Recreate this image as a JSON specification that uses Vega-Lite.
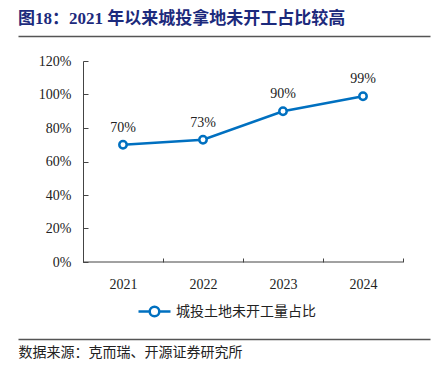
{
  "$schema": "https://vega.github.io/schema/vega-lite/v6.json",
  "autosize": "none",
  "width": 412,
  "height": 201,
  "padding": {"left": 18, "top": 61, "right": 11, "bottom": 115},
  "background": "white",
  "title": {
    "text": "图18：2021 年以来城投拿地未开工占比较高",
    "anchor": "start",
    "font": "Liberation Serif, Noto Sans CJK SC",
    "fontSize": 17,
    "fontWeight": "bold",
    "color": "#1c2a7c",
    "offset": 8
  },
  "config": {
    "font": "Liberation Serif, Noto Sans CJK SC",
    "view": {"stroke": null}
  },
  "data": {
    "values": [
      {"year": "2021", "value": 0.70, "label": "70%", "series": "城投土地未开工量占比"},
      {"year": "2022", "value": 0.73, "label": "73%", "series": "城投土地未开工量占比"},
      {"year": "2023", "value": 0.90, "label": "90%", "series": "城投土地未开工量占比"},
      {"year": "2024", "value": 0.99, "label": "99%", "series": "城投土地未开工量占比"}
    ]
  },
  "encoding": {
    "y": {
      "field": "value", "type": "quantitative",
      "scale": {"domain": [0, 1.2], "nice": false},
      "axis": {
        "title": null, "values": [0, 0.2, 0.4, 0.6, 0.8, 1.0, 1.2], "format": ".0%",
        "labelFont": "Liberation Serif", "labelFontSize": 14, "labelColor": "#222222",
        "domainColor": "#444444", "tickColor": "#444444", "tickSize": -5,
        "labelPadding": 17, "grid": false, "offset": -65
      }
    }
  },
  "resolve": {"axis": {"x": "independent"}, "scale": {"x": "shared"}},
  "layer": [
    {
      "mark": {"type": "point", "opacity": 0},
      "encoding": {
        "x": {
          "field": "year", "type": "ordinal",
          "scale": {"paddingInner": 0, "paddingOuter": 0.575, "align": 0.7065},
          "axis": {"orient": "top", "offset": 25, "title": null, "labels": false, "ticks": false, "domain": true, "domainColor": "#555555", "domainWidth": 1.5, "grid": false}
        }
      }
    },
    {
      "mark": {"type": "point", "opacity": 0},
      "encoding": {
        "x": {
          "field": "year", "type": "ordinal",
          "axis": {
            "orient": "bottom", "offset": 77, "labels": false, "ticks": false, "grid": false,
            "domain": true, "domainColor": "#555555", "domainWidth": 1.5,
            "title": "数据来源：克而瑞、开源证券研究所",
            "titleAnchor": "start", "titleAlign": "left", "titleBaseline": "top", "titlePadding": 6,
            "titleFont": "Noto Sans CJK SC", "titleFontSize": 14, "titleFontWeight": "normal", "titleColor": "#222222"
          }
        }
      }
    },
    {
      "data": {"values": [{}]},
      "mark": {"type": "rule", "color": "#555555", "strokeWidth": 1.5},
      "encoding": {"y": {"datum": 1.3493}}
    },
    {
      "data": {"values": [{}]},
      "mark": {"type": "rule", "color": "#555555", "strokeWidth": 1.5},
      "encoding": {"y": {"datum": -0.4597}}
    },
    {
      "mark": {"type": "rule", "color": "#444444", "strokeWidth": 1},
      "encoding": {
        "x": {
          "field": "year", "type": "ordinal", "bandPosition": 0,
          "axis": {
            "orient": "bottom", "title": null, "labelAngle": 0, "labelFont": "Liberation Serif", "labelFontSize": 14,
            "labelColor": "#222222", "domain": true, "domainOpacity": 0, "tickColor": "#444444",
            "tickBand": "extent", "tickSize": -4, "labelPadding": 19, "grid": false
          }
        },
        "x2": {"field": "year", "bandPosition": 1},
        "y": {"datum": 0}
      }
    },
    {
      "mark": {"type": "line", "strokeWidth": 2.5},
      "encoding": {
        "x": {"field": "year", "type": "ordinal", "axis": null},
        "color": {
          "field": "series", "type": "nominal",
          "scale": {"range": ["#0070c0"]},
          "legend": {
            "title": null, "orient": "none", "legendX": 119, "legendY": 233,
            "symbolType": "M-1,0L-0.3,0M0.3,0L1,0M-0.3,0A0.3,0.3,0,1,0,0.3,0A0.3,0.3,0,1,0,-0.3,0Z",
            "symbolSize": 1024, "symbolStrokeWidth": 2.5,
            "labelFont": "Noto Sans CJK SC", "labelFontSize": 14, "labelColor": "#222222",
            "encode": {"symbols": {"update": {"fill": {"value": "white"}, "stroke": {"value": "#0070c0"}, "strokeWidth": {"value": 2.5}}}}
          }
        }
      }
    },
    {
      "mark": {"type": "point", "filled": true, "fill": "white", "stroke": "#0070c0", "strokeWidth": 2.5, "size": 55, "opacity": 1},
      "encoding": {
        "x": {"field": "year", "type": "ordinal", "axis": null}
      }
    },
    {
      "mark": {"type": "text", "dy": -17, "font": "Liberation Serif", "fontSize": 14, "color": "#222222"},
      "encoding": {
        "x": {"field": "year", "type": "ordinal", "axis": null},
        "text": {"field": "label"}
      }
    }
  ]
}
